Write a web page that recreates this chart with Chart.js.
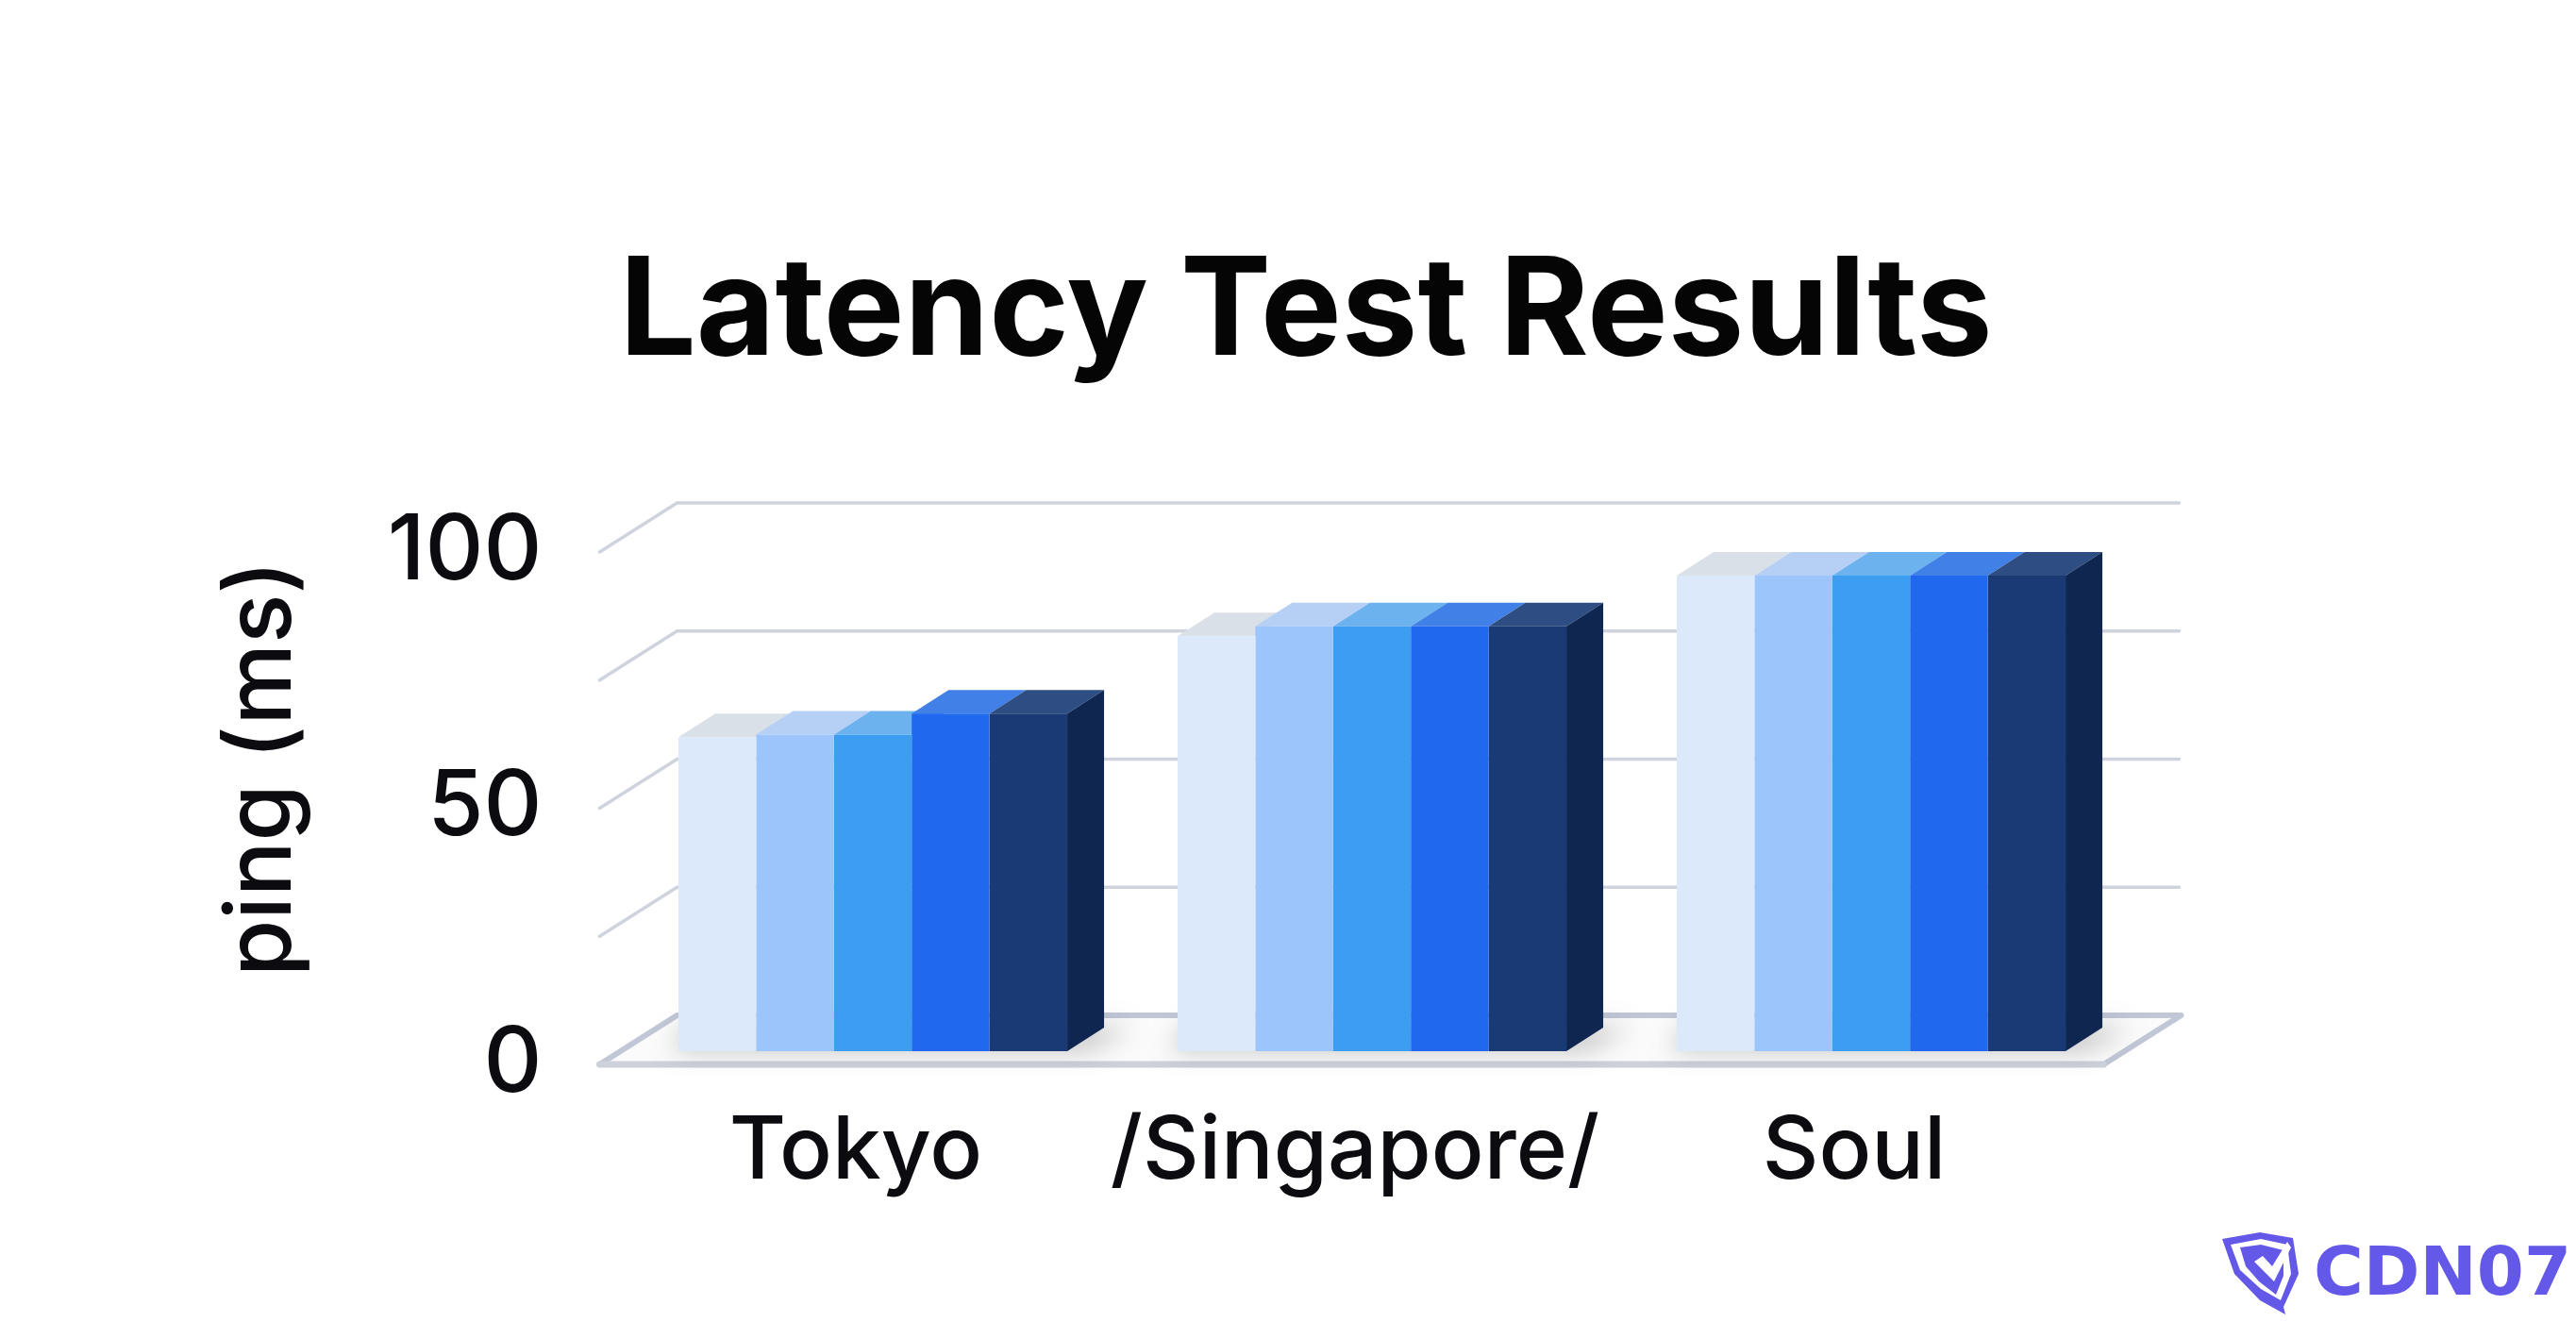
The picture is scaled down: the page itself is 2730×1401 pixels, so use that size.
<!DOCTYPE html>
<html>
<head>
<meta charset="utf-8">
<title>Latency Test Results</title>
<script src="https://cdn.jsdelivr.net/npm/chart.js"></script>
<style>
  html,body{margin:0;padding:0;background:#fff;overflow:hidden}
  canvas{display:block}
</style>
</head>
<body>
<canvas id="chart" width="2730" height="1401"></canvas>
<script>
/* =====  data  ===== */
const categories = ['Tokyo', '/Singapore/', 'Soul'];
const seriesA = [61.3, 81.0, 92.8];
const seriesB = [61.8, 82.9, 92.8];
const seriesC = [61.8, 82.9, 92.8];
const seriesD = [65.9, 82.9, 92.8];
const seriesE = [65.9, 82.9, 92.8];
const tickValues = [0, 25, 50, 75, 100];
const tickLabels = ['0', '', '50', '', '100'];

/* =====  colours  ===== */
const fronts = ['#dce9fb', '#9cc5fb', '#3d9df0', '#2069ee', '#1a3a76'];
const tops   = ['#d9e0e8', '#b5cff5', '#6cb2ee', '#4180e6', '#2e4d83'];
const sideColor = '#0f2650';
const DEPTH_X = 39, DEPTH_Y = 25;      // bar depth
const WALL_X = 82, WALL_Y = 52;        // floor / wall depth
const BAR_SHIFT_X = 18, BAR_SHIFT_Y = -14;  // bars stand inside the floor

function barRects(chart){
  const out = [];
  chart.data.datasets.forEach((d, i) => {
    chart.getDatasetMeta(i).data.forEach((el, j) => {
      const p = el.getProps(['x', 'y', 'width', 'base'], true);
      out.push({i, j, l: p.x - p.width / 2, r: p.x + p.width / 2, y: p.y, base: p.base});
    });
  });
  return out;
}

function poly(ctx, pts, fill){
  ctx.beginPath();
  pts.forEach((p, k) => k ? ctx.lineTo(p[0], p[1]) : ctx.moveTo(p[0], p[1]));
  ctx.closePath();
  ctx.fillStyle = fill;
  ctx.fill();
}

/* =====  walls + floor + 3d faces, fronts are the library's bars  ===== */
const scene = {
  id: 'scene',
  beforeDatasetsDraw(chart){
    const {ctx, chartArea: a, scales: {y}} = chart;
    const left = a.left - 7, right = a.right;
    ctx.save();

    // floor
    const y0 = y.getPixelForValue(0);
    poly(ctx, [[left, y0], [right, y0], [right + WALL_X, y0 - WALL_Y], [left + WALL_X, y0 - WALL_Y]], '#fbfbfb');

    // grid on the back and left wall
    ctx.lineCap = 'round';
    y.ticks.forEach(t => {
      const py = y.getPixelForValue(t.value);
      if (t.value === 0) return;
      ctx.strokeStyle = '#cfd3dd';
      ctx.lineWidth = 3.5;
      ctx.beginPath();
      ctx.moveTo(left, py);
      ctx.lineTo(left + WALL_X, py - WALL_Y);
      ctx.lineTo(right + WALL_X - 2, py - WALL_Y);
      ctx.stroke();
    });
    ctx.lineJoin = 'round';
    ctx.strokeStyle = '#c2c7d7';
    ctx.lineWidth = 6;
    ctx.beginPath();
    ctx.moveTo(right, y0);
    ctx.lineTo(right + WALL_X, y0 - WALL_Y);
    ctx.lineTo(left + WALL_X, y0 - WALL_Y);
    ctx.lineTo(left, y0);
    ctx.stroke();
    ctx.strokeStyle = '#cdd1db';
    ctx.lineWidth = 7;
    ctx.beginPath();
    ctx.moveTo(left, y0);
    ctx.lineTo(right, y0);
    ctx.stroke();

    // the bars are moved onto the floor for the rest of the dataset pass
    ctx.translate(BAR_SHIFT_X, BAR_SHIFT_Y);
    const rects = barRects(chart);

    // soft shadow
    categories.forEach((c, j) => {
      const row = rects.filter(r => r.j === j);
      const l = row[0].l, r = row[row.length - 1].r, b = row[0].base;
      ctx.save();
      ctx.filter = 'blur(14px)';
      poly(ctx, [[l - 8, b - 2], [r + 22, b - 2], [r + DEPTH_X + 30, b - DEPTH_Y], [l + 10, b - DEPTH_Y]], 'rgba(60,60,70,.33)');
      ctx.restore();
    });

    // top and side faces
    rects.forEach(b => {
      poly(ctx, [[b.l, b.y], [b.r, b.y], [b.r + DEPTH_X, b.y - DEPTH_Y], [b.l + DEPTH_X, b.y - DEPTH_Y]], tops[b.i]);
      if (b.i === fronts.length - 1) {
        poly(ctx, [[b.r, b.y], [b.r + DEPTH_X, b.y - DEPTH_Y], [b.r + DEPTH_X, b.base - DEPTH_Y], [b.r, b.base]], sideColor);
      }
    });
  },
  afterDatasetsDraw(chart){
    chart.ctx.restore();
  }
};

/* =====  corner mark  ===== */
const corner = {
  id: 'corner',
  afterDraw(chart){
    const ctx = chart.ctx;
    ctx.save();
    poly(ctx, [[2355, 1313], [2395, 1306], [2430, 1312], [2436, 1350], [2420, 1385], [2422, 1393], [2395, 1378], [2368, 1350]], '#6358e8');
    poly(ctx, [[2364, 1319], [2396, 1313], [2424, 1319], [2428, 1350], [2417, 1378], [2396, 1366], [2374, 1346]], '#fff');
    poly(ctx, [[2374, 1322], [2396, 1319], [2420, 1325], [2420, 1352], [2412, 1372], [2394, 1358], [2380, 1342]], '#6358e8');
    poly(ctx, [[2389, 1337], [2398, 1331], [2408, 1342], [2424, 1316], [2428, 1322], [2410, 1358]], '#fff');
    ctx.fillStyle = '#6358e8';
    ctx.font = '900 72px "DejaVu Sans"';
    ctx.textBaseline = 'alphabetic';
    ctx.textAlign = 'left';
    ctx.fillText('CDN07', 2452, 1372);
    ctx.restore();
  }
};

const barData = [seriesA, seriesB, seriesC, seriesD, seriesE];

new Chart(document.getElementById('chart'), {
  type: 'bar',
  data: {
    labels: categories,
    datasets: barData.map((v, i) => ({
      label: 'Run ' + (i + 1),
      data: v,
      backgroundColor: fronts[i],
      borderWidth: 0,
      barPercentage: 1,
      categoryPercentage: 0.779
    }))
  },
  plugins: [scene, corner],
  options: {
    responsive: false,
    animation: false,
    layout: {padding: {left: 38}},
    plugins: {
      legend: {display: false},
      tooltip: {enabled: false},
      title: {
        display: true,
        text: 'Latency Test Results',
        color: '#050505',
        font: {family: 'Inter', size: 144, weight: 700, lineHeight: 1.2},
        padding: {top: 246, bottom: 166.2}
      }
    },
    scales: {
      x: {
        grid: {display: false, drawTicks: false},
        border: {display: false},
        afterFit: s => { s.height = 273; },
        ticks: {
          color: '#0b0b10',
          font: {family: 'Inter', size: 92.5, weight: 500},
          padding: 38,
          maxRotation: 0,
          autoSkip: false
        }
      },
      y: {
        min: 0,
        max: 100,
        grid: {display: false, drawTicks: false},
        border: {display: false},
        afterFit: s => { s.width = 604.5; },
        afterBuildTicks: s => { s.ticks = tickValues.map(v => ({value: v})); },
        ticks: {
          color: '#0b0b10',
          font: {family: 'Inter', size: 96, weight: 500},
          padding: 68,
          autoSkip: false,
          callback: v => tickLabels[tickValues.indexOf(v)]
        },
        title: {
          display: true,
          text: 'ping (ms)\u200a',
          align: 'end',
          color: '#0b0b10',
          font: {family: 'Inter', size: 97.5, weight: 500, lineHeight: 1.2},
          padding: {top: 182, bottom: 0}
        }
      },
      // empty axis that keeps the plot away from the right edge
      pad: {
        type: 'linear',
        axis: 'y',
        position: 'right',
        grid: {display: false, drawTicks: false},
        border: {display: false},
        ticks: {display: false},
        afterFit: s => { s.width = 500.5; }
      }
    }
  }
});
</script>
</body>
</html>
